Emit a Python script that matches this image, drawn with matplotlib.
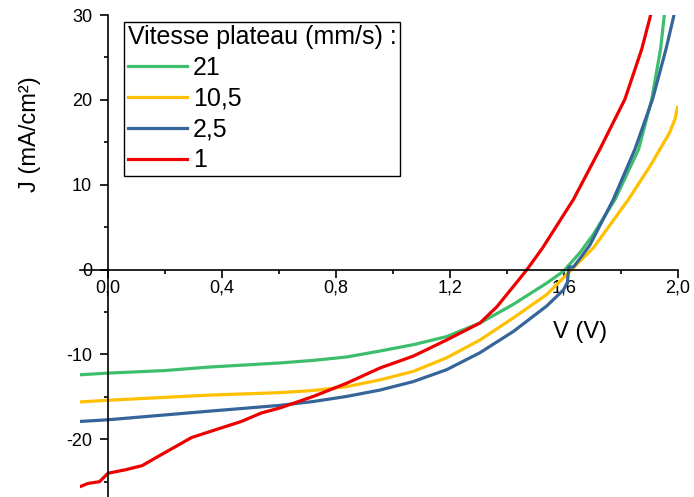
import matplotlib
matplotlib.use("Agg")
import matplotlib.pyplot as plt
from matplotlib.ticker import MultipleLocator, FixedLocator

plt.rcParams['font.family'] = ['Liberation Sans', 'DejaVu Sans']
plt.rcParams['axes.unicode_minus'] = False

# J-V curves (V in volts, J in mA/cm2)
v_21 = [-0.10, 0.00, 0.20, 0.35, 0.604, 0.72, 0.837, 0.954, 1.071, 1.188, 1.305, 1.422,
        1.539, 1.598, 1.656, 1.70, 1.779, 1.862, 1.908, 1.939, 1.952]
j_21 = [-12.4, -12.2, -11.9, -11.5, -11.0, -10.7, -10.3, -9.6, -8.85, -7.9, -6.3, -4.1,
        -1.6, -0.2, 2.0, 4.0, 8.26, 14.2, 20.1, 26.0, 30.0]

v_105 = [-0.10, 0.00, 0.35, 0.604, 0.72, 0.837, 0.954, 1.071, 1.188, 1.305, 1.422, 1.539,
         1.609, 1.703, 1.826, 1.902, 1.97, 1.99, 1.998]
j_105 = [-15.6, -15.4, -14.8, -14.5, -14.25, -13.8, -13.0, -12.0, -10.4, -8.3, -5.7, -2.95,
         -0.6, 2.56, 8.26, 12.2, 16.1, 17.8, 19.1]

v_25 = [-0.10, 0.00, 0.35, 0.604, 0.72, 0.837, 0.954, 1.071, 1.188, 1.305, 1.422, 1.539,
        1.598, 1.612, 1.617, 1.633, 1.662, 1.691, 1.773, 1.849, 1.911, 1.958, 1.986]
j_25 = [-17.9, -17.7, -16.7, -16.0, -15.55, -14.95, -14.2, -13.2, -11.8, -9.8, -7.3, -4.3,
        -2.4, -1.5, 0.3, 0.3, 1.57, 2.9, 8.26, 14.2, 20.1, 26.0, 30.0]

v_1 = [-0.10, -0.07, -0.03, 0.00, 0.06, 0.12, 0.177, 0.235, 0.293, 0.375, 0.468, 0.538,
       0.604, 0.72, 0.837, 0.954, 1.071, 1.188, 1.305, 1.364, 1.422, 1.469, 1.525, 1.633,
       1.726, 1.814, 1.873, 1.904]
j_1 = [-25.6, -25.2, -25.0, -24.0, -23.6, -23.1, -22.0, -20.9, -19.8, -18.9, -17.9, -16.9,
       -16.3, -14.95, -13.4, -11.6, -10.2, -8.3, -6.3, -4.4, -2.0, -0.05, 2.56, 8.26,
       14.2, 20.1, 26.0, 30.0]

x_ticks = [0.0, 0.4, 0.8, 1.2, 1.6, 2.0]
x_labels = ['0,0', '0,4', '0,8', '1,2', '1,6', '2,0']
y_ticks = [-20, -10, 0, 10, 20, 30]
y_labels = ['-20', '-10', '0', '10', '20', '30']

fig = plt.figure(figsize=(6.94, 4.97), dpi=100)
ax = fig.add_axes([79.5 / 694, 0.0, 598.5 / 694, 482 / 497])

lw = 2.3
l105, = ax.plot(v_105, j_105, color='#ffc000', lw=lw, label='10,5')
l21, = ax.plot(v_21, j_21, color='#3dbe6d', lw=lw, label='21')
l25, = ax.plot(v_25, j_25, color='#36659a', lw=lw, label='2,5')
l1, = ax.plot(v_1, j_1, color='#ee0000', lw=lw, label='1')

ax.set_xlim(-0.1, 2.0)
ax.set_ylim(-26.8, 30)

ax.spines['top'].set_visible(False)
ax.spines['right'].set_visible(False)
ax.spines['left'].set_position(('data', 0))
ax.spines['bottom'].set_position(('data', 0))
for s in ['left', 'bottom']:
    ax.spines[s].set_linewidth(1.2)

ax.xaxis.set_major_locator(FixedLocator(x_ticks))
ax.xaxis.set_minor_locator(MultipleLocator(0.2))
ax.set_xticklabels(x_labels)
ax.yaxis.set_major_locator(FixedLocator(y_ticks))
ax.yaxis.set_minor_locator(MultipleLocator(5))
ax.set_yticklabels(y_labels)

ax.tick_params(which='major', direction='out', length=5.5, width=1.2, labelsize=13)
ax.tick_params(which='minor', direction='out', length=3, width=1.2)
ax.tick_params(axis='x', which='major', pad=2)
ax.tick_params(axis='y', which='major', pad=6)

ax.set_xlabel('V (V)', fontsize=17, va='center')
ax.xaxis.set_label_coords((580 - 79.5) / 598.5, (497 - 332) / 482)
ax.set_ylabel('J (mA/cm²)', fontsize=17, va='center')
ax.yaxis.set_label_coords((30 - 79.5) / 598.5, (497 - 134) / 482)

leg = fig.legend(handles=[l21, l105, l25, l1], title='Vitesse plateau (mm/s) :',
                 loc='upper left', bbox_to_anchor=(124 / 694, 1 - 21.7 / 497),
                 fontsize=18, title_fontsize=18, alignment='left',
                 handlelength=2.35, handletextpad=0.25, labelspacing=0.27,
                 borderpad=0.15, borderaxespad=0, fancybox=False, framealpha=1,
                 edgecolor='black')
leg.get_frame().set_linewidth(1.0)

fig.savefig('out.png', dpi=100)
